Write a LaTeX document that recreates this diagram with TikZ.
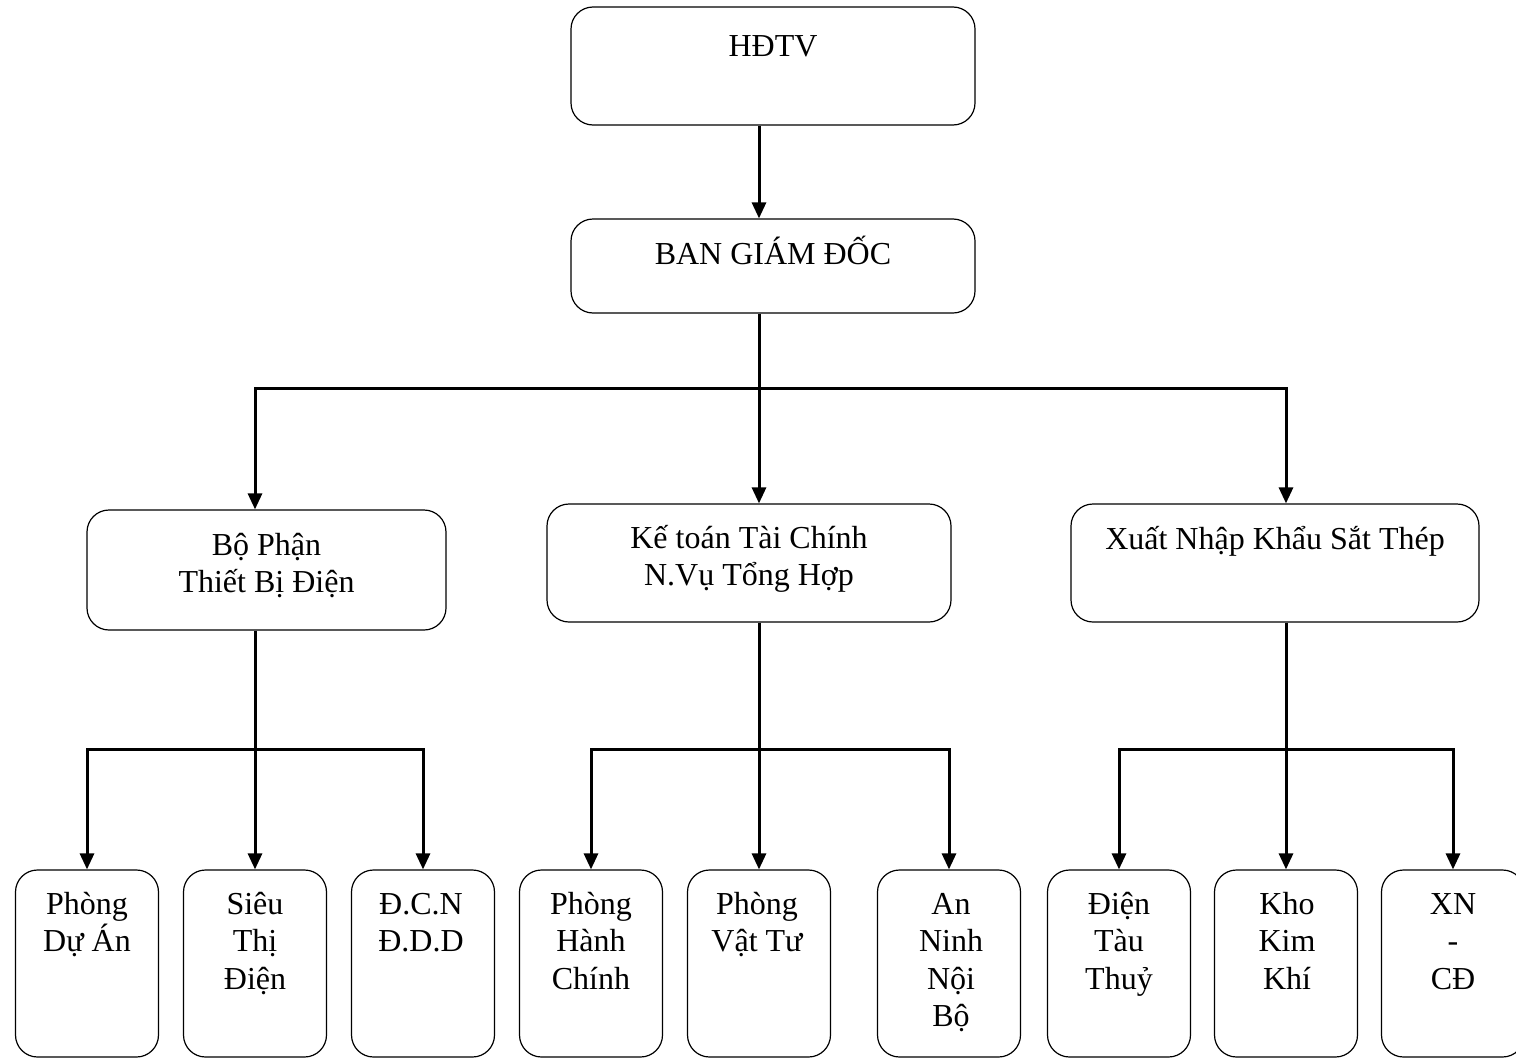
\documentclass[tikz,border=0pt]{standalone}
\usepackage{fontspec}
\setmainfont{Liberation Serif}
\usetikzlibrary{arrows.meta}

\begin{document}
\begin{tikzpicture}[x=1pt,y=-1pt,
  box/.style={draw, rounded corners=22pt, line width=1.2pt, inner sep=0pt},
  unit/.style={box, minimum width=143pt, minimum height=187pt},
  % multi-line labels are anchored at the baseline of their last line
  lbl/.style={font=\fontsize{32}{37.5}\selectfont, align=center, anchor=base, inner sep=0pt},
  link/.style={line width=3pt, line join=miter},
  arr/.style={link, -{Triangle[width=14pt,length=16pt]}}]
\useasboundingbox (0,0) rectangle (1516,1060);

% top levels
\node[box, minimum width=404pt, minimum height=118pt] (hdtv) at (773,66) {};
\node[lbl] (thdtv) at (773,56) {HĐTV};
\node[box, minimum width=404pt, minimum height=94pt] (bgd) at (773,266) {};
\node[lbl] (tbgd) at (773,264) {BAN GIÁM ĐỐC};

% departments
\node[box, minimum width=359pt, minimum height=120pt] (bp) at (266.5,570) {};
\node[lbl] (tbp) at (266.5,592.5) {Bộ Phận\\Thiết Bị Điện};
\node[box, minimum width=404pt, minimum height=118pt] (kt) at (749,563) {};
\node[lbl] (tkt) at (749,585.5) {Kế toán Tài Chính\\N.Vụ Tổng Hợp};
\node[box, minimum width=408pt, minimum height=118pt] (xn) at (1275,563) {};
\node[lbl] (txn) at (1275,549) {Xuất Nhập Khẩu Sắt Thép};

% units
\node[unit] (u1) at (87,963.5) {};
\node[unit] (u2) at (255,963.5) {};
\node[unit] (u3) at (423,963.5) {};
\node[unit] (u4) at (591,963.5) {};
\node[unit] (u5) at (759,963.5) {};
\node[unit] (u6) at (949,963.5) {};
\node[unit] (u7) at (1119,963.5) {};
\node[unit] (u8) at (1286,963.5) {};
\node[unit] (u9) at (1453,963.5) {};
\node[lbl] (t1) at (87,951.5) {Phòng\\Dự Án};
\node[lbl] (t2) at (255,989) {Siêu\\Thị\\Điện};
\node[lbl] (t3) at (421,951.5) {Đ.C.N\\Đ.D.D};
\node[lbl] (t4) at (591,989) {Phòng\\Hành\\Chính};
\node[lbl] (t5) at (757,951.5) {Phòng\\Vật Tư};
\node[lbl] (t6) at (951,1026.5) {An\\Ninh\\Nội\\Bộ};
\node[lbl] (t7) at (1119,989) {Điện\\Tàu\\Thuỷ};
\node[lbl] (t8) at (1287,989) {Kho\\Kim\\Khí};
\node[lbl] (t9) at (1453,989) {XN\\-\\CĐ};

% HĐTV -> Ban giám đốc
\draw[arr] ([xshift=-14pt]hdtv.south) -- ([xshift=-14pt]bgd.north);

% Ban giám đốc -> departments
\coordinate (jt) at (759,388);
\draw[arr] ([xshift=-14pt]bgd.south) -- ([xshift=10pt]kt.north);
\draw[arr] (jt) -| ([xshift=-11.5pt]bp.north);
\draw[arr] (jt) -| ([xshift=11pt]xn.north);

% departments -> units
\coordinate (j1) at (255,749);
\coordinate (j2) at (759,749);
\coordinate (j3) at (1286,749);
\draw[arr] ([xshift=-11.5pt]bp.south) -- (u2.north);
\draw[arr] (j1) -| (u1.north);
\draw[arr] (j1) -| (u3.north);
\draw[arr] ([xshift=10pt]kt.south) -- (u5.north);
\draw[arr] (j2) -| (u4.north);
\draw[arr] (j2) -| (u6.north);
\draw[arr] ([xshift=11pt]xn.south) -- (u8.north);
\draw[arr] (j3) -| (u7.north);
\draw[arr] (j3) -| (u9.north);
\end{tikzpicture}
\end{document}
